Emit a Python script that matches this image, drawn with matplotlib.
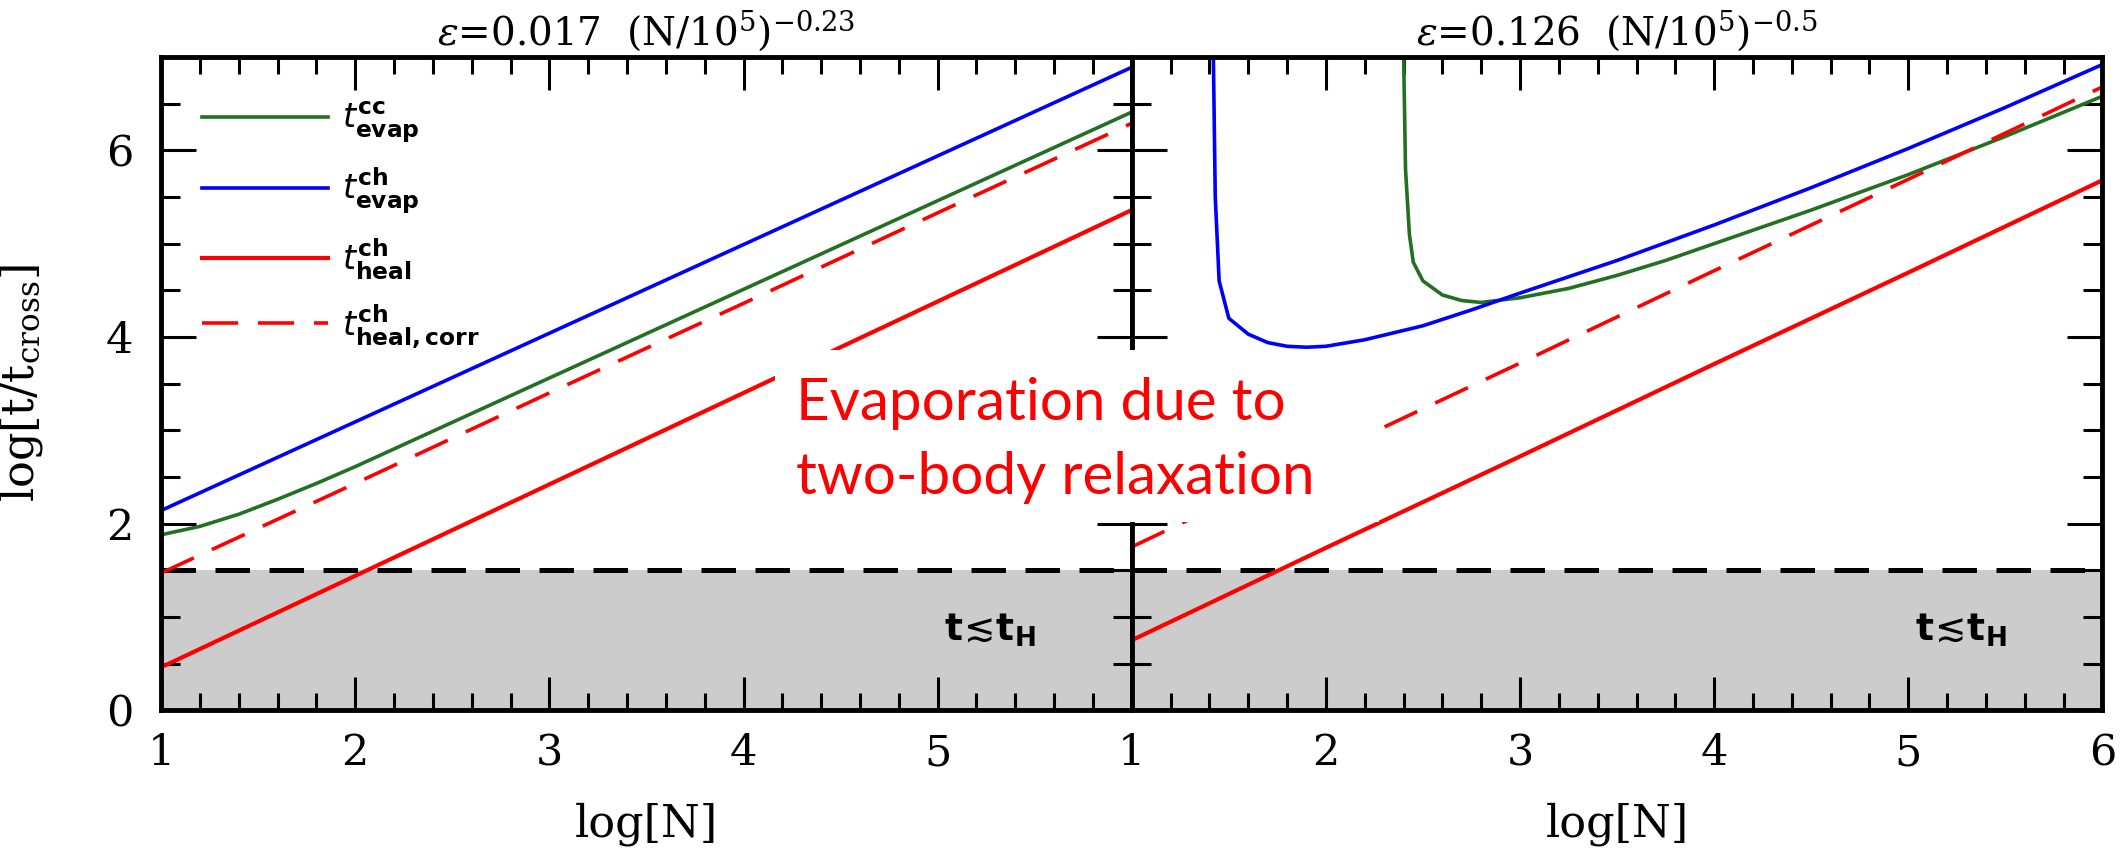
import matplotlib
matplotlib.use('Agg')
import matplotlib.pyplot as plt
from matplotlib.patches import Rectangle
from matplotlib.font_manager import FontProperties
from matplotlib.ticker import MultipleLocator

plt.rcParams.update({
    'font.family': 'DejaVu Serif',
    'mathtext.fontset': 'dejavuserif',
    'axes.linewidth': 3.5,
})

# ---- data ----
# left panel: eps = 0.017 (N/1e5)^-0.23
L_x = [1, 2, 3, 4, 5, 6]
L_blue = [2.14, 3.09, 4.04, 4.99, 5.94, 6.89]
L_green_x = [1.0, 1.2, 1.4, 1.6, 1.8, 2.0, 3.0, 4.0, 5.0, 6.0]
L_green = [1.88, 1.97, 2.10, 2.26, 2.43, 2.61, 3.56, 4.51, 5.46, 6.41]
L_heal_corr = [1.47, 2.43, 3.40, 4.36, 5.33, 6.29]
L_heal = [0.46, 1.44, 2.42, 3.40, 4.38, 5.36]

# right panel: eps = 0.126 (N/1e5)^-0.5
R_blue_x = [1.42, 1.43, 1.45, 1.5, 1.6, 1.7, 1.8, 1.9, 2.0, 2.2, 2.5, 2.75, 3.0, 3.5, 4.0, 4.5, 5.0, 5.5, 6.0]
R_blue = [7.05, 5.5, 4.6, 4.2, 4.03, 3.94, 3.90, 3.89, 3.90, 3.97, 4.12, 4.29, 4.47, 4.82, 5.20, 5.60, 6.02, 6.46, 6.92]
R_green_x = [2.40, 2.41, 2.43, 2.45, 2.5, 2.6, 2.7, 2.8, 3.0, 3.25, 3.5, 3.75, 4.0, 4.5, 5.0, 5.5, 6.0]
R_green = [7.05, 5.8, 5.1, 4.8, 4.6, 4.45, 4.39, 4.37, 4.42, 4.52, 4.66, 4.82, 5.0, 5.36, 5.74, 6.15, 6.58]
R_x = [1, 2, 3, 4, 5, 6]
R_heal_corr = [1.75, 2.74, 3.72, 4.71, 5.69, 6.68]
R_heal = [0.75, 1.74, 2.72, 3.71, 4.69, 5.68]

t_hubble = 1.5
titles = [r'$\epsilon$=0.017  (N/10$^5$)$^{-0.23}$', r'$\epsilon$=0.126  (N/10$^5$)$^{-0.5}$']
legend_labels = [r'$t^{\mathbf{cc}}_{\mathbf{evap}}$', r'$t^{\mathbf{ch}}_{\mathbf{evap}}$',
                 r'$t^{\mathbf{ch}}_{\mathbf{heal}}$', r'$t^{\mathbf{ch}}_{\mathbf{heal,corr}}$']

GREEN = '#237023'
BLUE = '#0000ff'
RED = '#ff0000'
LW = 2.6
DASH = (10, 5.5)

fig = plt.figure(figsize=(21.28, 8.64), dpi=100)
ax1, ax2 = fig.subplots(1, 2, sharey=True)
fig.subplots_adjust(left=0.0757, right=0.988, bottom=0.178, top=0.934, wspace=0)

ax1.plot(L_green_x, L_green, color=GREEN, lw=LW, label=legend_labels[0])
ax1.plot(L_x, L_blue, color=BLUE, lw=LW, label=legend_labels[1])
ax1.plot(L_x, L_heal, color=RED, lw=LW + 0.4, label=legend_labels[2])
ax1.plot(L_x, L_heal_corr, color=RED, lw=LW, dashes=DASH, label=legend_labels[3])

ax2.plot(R_green_x, R_green, color=GREEN, lw=LW)
ax2.plot(R_blue_x, R_blue, color=BLUE, lw=LW)
ax2.plot(R_x, R_heal, color=RED, lw=LW + 0.4)
ax2.plot(R_x, R_heal_corr, color=RED, lw=LW, dashes=DASH)

for ax, title in zip([ax1, ax2], titles):
    ax.axhspan(0, t_hubble, color='#cccccc', zorder=0, lw=0)
    ax.axhline(t_hubble, color='black', lw=3.6, dashes=(6.9, 3.9), zorder=1)
    ax.text(5.27, 0.86, r'$\mathbf{t}\!\lesssim\!\mathbf{t}_{\mathbf{H}}$', fontsize=27,
            ha='center', va='center', math_fontfamily='dejavusans')
    ax.set_xlim(1, 6)
    ax.set_ylim(0, 7)
    ax.xaxis.set_minor_locator(MultipleLocator(0.2))
    ax.yaxis.set_major_locator(MultipleLocator(2))
    ax.yaxis.set_minor_locator(MultipleLocator(0.5))
    ax.tick_params(which='both', direction='in', top=True, right=True, width=2.2, labelsize=31)
    ax.tick_params(axis='x', which='major', length=24, pad=16)
    ax.tick_params(axis='x', which='minor', length=12)
    ax.tick_params(axis='y', which='major', length=25, pad=20)
    ax.tick_params(axis='y', which='minor', length=14)
    ax.set_xlabel('log[N]', fontsize=32, labelpad=20)
    ax.set_title(title, fontsize=28, pad=9)

ax1.set_xticks([1, 2, 3, 4, 5])
ax2.set_xticks([1, 2, 3, 4, 5, 6])
ax1.set_ylabel(r'log[t/t$_{\mathregular{cross}}$]', fontsize=32)
ax1.yaxis.set_label_coords(-0.12, 0.5)

leg = ax1.legend(loc='upper left', bbox_to_anchor=(0.028, 0.955), frameon=False,
                 prop=FontProperties(family='DejaVu Sans', size=24, math_fontfamily='dejavusans'),
                 handlelength=3.8, handletextpad=0.4, labelspacing=0.62, borderaxespad=0)

# white box with the annotation on top of both panels
fig.add_artist(Rectangle((0.3642, 0.396), 0.2838, 0.199, transform=fig.transFigure,
                         facecolor='white', edgecolor='none', zorder=5))
fig.text(0.374, 0.490, 'Evaporation due to\ntwo-body relaxation', color=RED,
         family='Lato', fontsize=42, ha='left', va='center', linespacing=1.5, zorder=6)

fig.savefig('out.png', dpi=100)
